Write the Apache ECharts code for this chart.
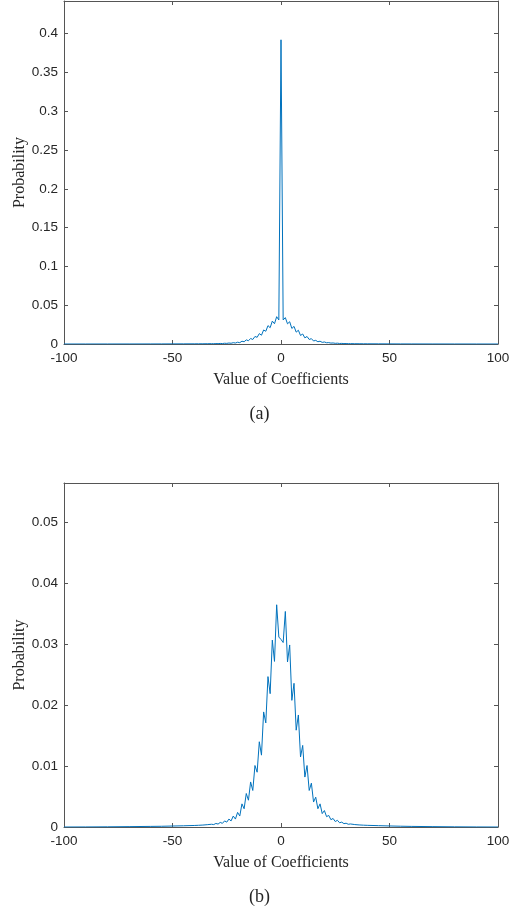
<!DOCTYPE html>
<html>
<head>
<meta charset="utf-8">
<script src="https://cdn.jsdelivr.net/npm/echarts@6/dist/echarts.min.js"></script>
<style>
    html, body { margin: 0; padding: 0; background: #fff; }
    #main { width: 519px; height: 913px; }
</style>
</head>
<body>
<div id="main"></div>
<script>
// 系数取值 (x)
var coefX = [-100, -90, -80, -70, -60, -55, -50, -45, -40, -38, -36, -34, -32,
    -31, -30, -29, -28, -27, -26, -25, -24, -23, -22, -21, -20, -19, -18, -17, -16,
    -15, -14, -13, -12, -11, -10, -9, -8, -7, -6, -5, -4, -3, -2, -1,
    0, 1, 2, 3, 4, 5, 6, 7, 8, 9, 10, 11, 12, 13, 14, 15, 16, 17, 18, 19, 20,
    21, 22, 23, 24, 25, 26, 27, 28, 29, 30, 31,
    32, 34, 36, 38, 40, 45, 50, 55, 60, 70, 80, 90, 100];

// (a) 概率
var probA = [0, 0.00001, 0.00003, 0.00006, 0.0001, 0.00012, 0.00015, 0.00019, 0.00024, 0.00027, 0.0003, 0.00036, 0.00043,
    0.00038, 0.00056, 0.00046, 0.00072, 0.00058, 0.00096, 0.00077, 0.00125, 0.00096, 0.0017, 0.00125, 0.0023, 0.0017, 0.0036, 0.0029, 0.0053,
    0.0042, 0.0071, 0.0058, 0.0097, 0.0086, 0.0134, 0.0113, 0.0181, 0.0164, 0.0237, 0.021, 0.0295, 0.0261, 0.0352, 0.031,
    0.392, 0.031, 0.034, 0.026, 0.0287, 0.02, 0.0227, 0.0153, 0.0177, 0.011, 0.0129, 0.0079, 0.0097, 0.0058, 0.0069, 0.0039, 0.0047, 0.0029, 0.0036, 0.0021, 0.0026,
    0.0016, 0.0018, 0.00115, 0.00134, 0.00086, 0.00106, 0.00067, 0.00077, 0.00053, 0.0006, 0.00043,
    0.00048, 0.00038, 0.00033, 0.00029, 0.00026, 0.00021, 0.00016, 0.00012, 0.0001, 0.00006, 0.00003, 0.00001, 0];

// (b) 概率
var probB = [0, 0.00001, 0.00003, 0.00006, 0.0001, 0.00012, 0.00016, 0.0002, 0.00025, 0.00028, 0.00032, 0.00038, 0.00045,
    0.0004, 0.00058, 0.00048, 0.00075, 0.0006, 0.001, 0.0008, 0.0013, 0.001, 0.0018, 0.0013, 0.0024, 0.0018, 0.0038, 0.003, 0.0055,
    0.0044, 0.0074, 0.006, 0.0101, 0.009, 0.014, 0.0118, 0.0189, 0.0171, 0.0247, 0.0219, 0.0307, 0.0272, 0.0365, 0.0312,
    0.0308, 0.0303, 0.0354, 0.0271, 0.0299, 0.0208, 0.0236, 0.0159, 0.0184, 0.0115, 0.0134, 0.0082, 0.0101, 0.006, 0.0072, 0.0041, 0.0049, 0.003, 0.0038, 0.0022, 0.0027,
    0.0017, 0.0019, 0.0012, 0.0014, 0.0009, 0.0011, 0.0007, 0.0008, 0.00055, 0.00062, 0.00045,
    0.0005, 0.0004, 0.00034, 0.0003, 0.00027, 0.00022, 0.00017, 0.00013, 0.0001, 0.00006, 0.00003, 0.00001, 0];

var xTicks = [-100, -50, 0, 50, 100];
var yMaxA = 0.442, yStepA = 0.05;
var yMaxB = 0.0565, yStepB = 0.01;

var axisColor = '#555';
var textColor = '#262626';

function pairs(ys) {
    var out = [];
    for (var i = 0; i < coefX.length; i++) {
        out.push([coefX[i], ys[i]]);
    }
    return out;
}

// 坐标轴（下/上，左/右 构成 MATLAB 风格的方框）
function xAx(gi, pos, showLabel) {
    return {
        type: 'value', gridIndex: gi, position: pos,
        min: xTicks[0], max: xTicks[xTicks.length - 1], interval: 50,
        splitLine: {show: false},
        axisLine: {show: true, onZero: false, lineStyle: {color: axisColor, width: 1}},
        axisTick: {show: true, inside: true, length: 4, lineStyle: {color: axisColor}},
        axisLabel: {show: showLabel, color: textColor, fontFamily: 'Liberation Sans', fontSize: 13.5, margin: 7},
        name: showLabel ? 'Value of Coefficients' : '',
        nameLocation: 'middle', nameGap: 28, nameMoveOverlap: false,
        nameTextStyle: {color: textColor, fontFamily: 'Liberation Serif', fontSize: 16}
    };
}

function yAx(gi, pos, max, step, showLabel) {
    return {
        type: 'value', gridIndex: gi, position: pos,
        min: 0, max: max, interval: step,
        splitLine: {show: false},
        axisLine: {show: true, onZero: false, lineStyle: {color: axisColor, width: 1}},
        axisTick: {show: true, inside: true, length: 4, lineStyle: {color: axisColor}},
        axisLabel: {show: showLabel, showMaxLabel: false, color: textColor,
            fontFamily: 'Liberation Sans', fontSize: 13.5, margin: 6},
        name: showLabel ? 'Probability' : '',
        nameLocation: 'middle', nameGap: 36, nameMoveOverlap: false,
        nameTextStyle: {color: textColor, fontFamily: 'Liberation Serif', fontSize: 16}
    };
}

function lineSeries(xi, yi, ys) {
    return {
        type: 'line', xAxisIndex: xi, yAxisIndex: yi,
        data: pairs(ys), showSymbol: false, animation: false,
        lineStyle: {color: '#0072BD', width: 1}
    };
}

var myChart = echarts.init(document.getElementById('main'));
var option = {
    backgroundColor: '#fff',
    animation: false,
    grid: [
        {left: 64, top: 1, width: 434, height: 343, outerBoundsMode: 'none', containLabel: false},
        {left: 64, top: 483, width: 434, height: 344, outerBoundsMode: 'none', containLabel: false}
    ],
    xAxis: [xAx(0, 'bottom', true), xAx(0, 'top', false), xAx(1, 'bottom', true), xAx(1, 'top', false)],
    yAxis: [yAx(0, 'left', yMaxA, yStepA, true), yAx(0, 'right', yMaxA, yStepA, false),
        yAx(1, 'left', yMaxB, yStepB, true), yAx(1, 'right', yMaxB, yStepB, false)],
    title: [
        {text: '(a)', left: 'center', top: 400, textStyle: {color: textColor, fontFamily: 'Liberation Serif', fontSize: 18, fontWeight: 'normal'}},
        {text: '(b)', left: 'center', top: 883, textStyle: {color: textColor, fontFamily: 'Liberation Serif', fontSize: 18, fontWeight: 'normal'}}
    ],
    series: [lineSeries(0, 0, probA), lineSeries(2, 2, probB)]
};
myChart.setOption(option);
</script>
</body>
</html>
